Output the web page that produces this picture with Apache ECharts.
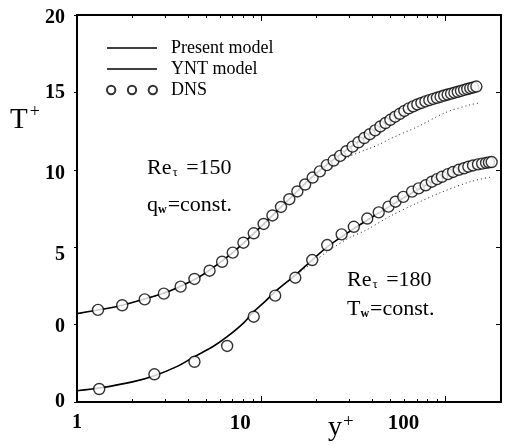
<!DOCTYPE html>
<html><head><meta charset="utf-8">
<script src="https://cdn.jsdelivr.net/npm/echarts@6/dist/echarts.min.js"></script>
<style>html,body{margin:0;padding:0;background:#fff}#c{width:507px;height:448px}</style>
</head><body><div id="c"></div>
<script>
// ---- Re_tau = 150, q_w = const (left axis, T+ from 0) ----
const qwDnsX = [1.3, 1.76, 2.33, 2.96, 3.65, 4.34, 5.24, 6.13, 7.0, 8.0, 9.1, 10.3, 11.5, 12.8, 14.2, 15.7, 17.3, 19.0, 20.8, 22.7, 24.7, 26.8, 29.0, 31.3, 33.7, 36.2, 38.8, 41.5, 44.3, 47.2, 50.2, 53.3, 56.5, 59.8, 63.2, 66.7, 70.3, 74.0, 77.8, 81.7, 85.7, 89.8, 94.0, 98.3, 102.7, 107.2, 111.8, 116.5, 121.3, 126.2, 131.2, 136.3, 141.5, 147.0];
const qwDnsT = [0.95, 1.25, 1.63, 2.0, 2.45, 2.95, 3.48, 4.06, 4.65, 5.29, 5.9, 6.5, 7.05, 7.6, 8.1, 8.6, 9.05, 9.5, 9.9, 10.3, 10.6, 10.9, 11.2, 11.5, 11.78, 12.05, 12.3, 12.55, 12.8, 13.02, 13.23, 13.43, 13.62, 13.8, 13.97, 14.1, 14.22, 14.32, 14.42, 14.5, 14.58, 14.65, 14.72, 14.8, 14.86, 14.92, 14.98, 15.04, 15.1, 15.16, 15.22, 15.27, 15.32, 15.38];
const qwPresentX = [1, 1.5, 2, 3, 4, 5, 7, 10, 14, 20, 30, 50, 70, 100, 130, 150];
const qwPresentT = [0.71, 1.07, 1.43, 2.05, 2.7, 3.35, 4.65, 6.35, 8.05, 9.8, 11.4, 13.2, 14.2, 14.82, 15.22, 15.38];
const qwYntX = [1, 1.5, 2, 3, 4, 5, 7, 10, 14, 20, 30, 43, 50, 71, 100, 136, 150];
const qwYntT = [0.71, 1.07, 1.43, 2.05, 2.7, 3.35, 4.65, 6.35, 8.0, 9.6, 10.85, 11.6, 12.0, 12.8, 13.7, 14.2, 14.3];

// ---- Re_tau = 180, T_w = const (right axis, its 0 at the bottom) ----
const twDnsX = [1.32, 2.63, 4.34, 6.53, 9.1, 11.9, 15.3, 18.9, 22.8, 27.3, 31.8, 37.6, 43.4, 49, 53.5, 59, 65.8, 71.5, 78, 84.3, 90, 95.6, 103, 110, 118, 126, 133, 141, 150, 158, 166, 172, 178];
const twDnsT = [0.84, 1.79, 2.6, 3.62, 5.51, 6.87, 8.03, 9.17, 10.14, 10.83, 11.32, 11.85, 12.25, 12.62, 12.94, 13.25, 13.59, 13.8, 14.0, 14.23, 14.4, 14.55, 14.72, 14.86, 15.0, 15.1, 15.2, 15.28, 15.35, 15.4, 15.45, 15.48, 15.5];
const twPresentX = [1, 1.32, 2, 2.63, 3.5, 4.34, 5.5, 6.53, 8, 9.1, 10.5, 11.9, 15.3, 19, 23, 30, 40, 55, 70, 95, 130, 180];
const twPresentT = [0.73, 0.9, 1.3, 1.7, 2.3, 2.93, 3.6, 4.22, 5.1, 5.83, 6.5, 7.13, 8.2, 9.2, 10.05, 11.0, 11.95, 12.95, 13.7, 14.5, 15.1, 15.45];
const twYntX = [1, 1.32, 2, 2.63, 3.5, 4.34, 5.5, 6.53, 8, 9.1, 10.5, 11.9, 15.3, 19, 23, 30, 37, 50, 70, 95, 138, 180];
const twYntT = [0.73, 0.9, 1.3, 1.7, 2.3, 2.93, 3.6, 4.22, 5.1, 5.83, 6.5, 7.13, 8.15, 9.0, 9.75, 10.6, 11.1, 12.0, 12.85, 13.55, 14.25, 14.55];

// ---- ticks / labels ----
const xMajorTicks = [1, 10, 100];
const xMinorTicks = [2, 3, 4, 5, 6, 7, 8, 9, 20, 30, 40, 50, 60, 70, 80, 90, 200];
const xTickLabels = ['1', '10', '100'];
const yTickValues = [-5, 0, 5, 10, 15, 20];
const yTickLabels = ['0', '0', '5', '10', '15', '20'];

const pairs = (xs, ys) => xs.map((x, i) => [x, ys[i]]);
const serif = 'Liberation Serif';

const xLabelRich = ['x0', 'x1', 'x2'];
const yLabelRich = ['y0', 'y1', 'y2', 'y3', 'y4', 'y5'];
const tickFont = {fontFamily: serif, fontWeight: 'bold', fontSize: 20, color: '#000'};

function xAxisBase(pos, ticks, len, showLabel) {
  return {
    type: 'log', logBase: 10, min: 1, max: 200, position: pos,
    axisLine: {show: true, onZero: false, lineStyle: {color: '#000', width: 2}},
    axisTick: {show: true, inside: true, length: len, customValues: ticks, lineStyle: {color: '#000', width: 1}},
    axisLabel: showLabel ? {
      show: true, customValues: xMajorTicks, margin: 11,
      formatter: v => { const i = xMajorTicks.indexOf(Math.round(v)); return '{' + xLabelRich[i] + '|' + xTickLabels[i] + '}'; },
      rich: {
        x0: Object.assign({}, tickFont),
        x1: Object.assign({}, tickFont, {fontSize: 21, padding: [0, 42, 0, 0]}),
        x2: Object.assign({}, tickFont, {fontSize: 21, padding: [0, 84, 0, 0]})
      }
    } : {show: false},
    splitLine: {show: false}
  };
}

const linePath = 'path://M0,0H48V1.6H0Z';

const option = {
  animation: false,
  backgroundColor: '#fff',
  grid: {left: 77, right: 6, top: 15, bottom: 46, containLabel: false},
  legend: {
    orient: 'vertical', left: 101, top: 34, itemWidth: 50, itemHeight: 10, itemGap: 3,
    textStyle: {fontFamily: serif, fontSize: 18, color: '#000', padding: [0, 0, 0, 9]},
    data: [
      {name: 'Present model', icon: linePath, itemStyle: {color: '#000', borderWidth: 0}},
      {name: 'YNT model', icon: linePath, itemStyle: {color: '#000', borderWidth: 0}},
      {name: 'DNS', icon: 'path://M0,4A4,4,0,1,1,8,4A4,4,0,1,1,0,4ZM20,4A4,4,0,1,1,28,4A4,4,0,1,1,20,4ZM40,4A4,4,0,1,1,48,4A4,4,0,1,1,40,4Z'}
    ]
  },
  xAxis: [
    xAxisBase('bottom', xMajorTicks, 6, true),
    xAxisBase('bottom', xMinorTicks, 3, false),
    xAxisBase('top', xMajorTicks.slice(1), 6, false),
    xAxisBase('top', xMinorTicks, 3, false)
  ],
  yAxis: [
    {
      type: 'value', min: -5, max: 20, interval: 5, position: 'left',
      axisLine: {show: true, onZero: false, lineStyle: {color: '#000', width: 2}},
      axisTick: {show: true, inside: false, length: 3, lineStyle: {color: '#000'}},
      axisLabel: {
        margin: 12,
        formatter: v => { const i = yTickValues.indexOf(v); return '{' + yLabelRich[i] + '|' + yTickLabels[i] + '}'; },
        rich: {
          y0: Object.assign({}, tickFont),
          y1: Object.assign({}, tickFont, {padding: [4, 0, 0, 0]}),
          y2: Object.assign({}, tickFont, {padding: [16, 0, 0, 0]}),
          y3: Object.assign({}, tickFont, {padding: [8, 0, 0, 0]}),
          y4: Object.assign({}, tickFont),
          y5: Object.assign({}, tickFont, {padding: [6, 0, 0, 0]})
        }
      },
      splitLine: {show: false}
    },
    {
      type: 'value', min: 0, max: 25, interval: 5, position: 'right',
      axisLine: {show: true, onZero: false, lineStyle: {color: '#000', width: 2}},
      axisTick: {show: true, inside: true, length: 5, lineStyle: {color: '#000'}},
      axisLabel: {show: false},
      splitLine: {show: false}
    }
  ],
  series: [
    {name: 'Present model', type: 'line', xAxisIndex: 0, yAxisIndex: 0, data: pairs(qwPresentX, qwPresentT), smooth: 0.3, showSymbol: false, symbol: 'none', lineStyle: {color: '#000', width: 1.6}, itemStyle: {color: '#000'}, z: 2},
    {name: 'Present model', type: 'line', xAxisIndex: 0, yAxisIndex: 1, data: pairs(twPresentX, twPresentT), smooth: 0.3, showSymbol: false, symbol: 'none', lineStyle: {color: '#000', width: 1.6}, itemStyle: {color: '#000'}, z: 2},
    {name: 'YNT model', type: 'line', xAxisIndex: 0, yAxisIndex: 0, data: pairs(qwYntX, qwYntT), smooth: 0.3, showSymbol: false, symbol: 'none', lineStyle: {color: '#222', width: 1, type: [1, 3]}, itemStyle: {color: '#000'}, z: 1},
    {name: 'YNT model', type: 'line', xAxisIndex: 0, yAxisIndex: 1, data: pairs(twYntX, twYntT), smooth: 0.3, showSymbol: false, symbol: 'none', lineStyle: {color: '#222', width: 1, type: [1, 3]}, itemStyle: {color: '#000'}, z: 1},
    {name: 'DNS', type: 'scatter', xAxisIndex: 0, yAxisIndex: 0, data: pairs(qwDnsX, qwDnsT), symbol: 'circle', symbolSize: 11, itemStyle: {color: '#fff', borderColor: '#000', borderWidth: 1.4}, z: 3},
    {name: 'DNS', type: 'scatter', xAxisIndex: 0, yAxisIndex: 1, data: pairs(twDnsX, twDnsT), symbol: 'circle', symbolSize: 11, itemStyle: {color: '#fff', borderColor: '#000', borderWidth: 1.4}, z: 3}
  ],
  graphic: [
    {type: 'text', left: 10, top: 103, style: {text: '{m|T}{s|+}', rich: {m: {fontFamily: serif, fontSize: 29, fill: '#000'}, s: {fontFamily: serif, fontSize: 18, fill: '#000', padding: [0, 0, 16, 2]}}}},
    {type: 'text', left: 328, top: 413, style: {text: '{m|y}{s|+}', rich: {m: {fontFamily: serif, fontSize: 28, fill: '#000'}, s: {fontFamily: serif, fontSize: 19, fill: '#000', padding: [0, 0, 10, 1]}}}},
    {type: 'text', left: 147, top: 157, style: {text: '{m|Re}{s|τ}{m| =150}', rich: {m: {fontFamily: serif, fontSize: 22, fill: '#000'}, s: {fontFamily: serif, fontSize: 13, fill: '#000', padding: [10, 3, 0, 1]}}}},
    {type: 'text', left: 147, top: 194, style: {text: '{m|q}{s|w}{m|=const.}', rich: {m: {fontFamily: serif, fontSize: 22, fill: '#000'}, s: {fontFamily: serif, fontSize: 12, fontWeight: 'bold', fill: '#000', padding: [10, 1, 0, 0]}}}},
    {type: 'text', left: 347, top: 269, style: {text: '{m|Re}{s|τ}{m| =180}', rich: {m: {fontFamily: serif, fontSize: 22, fill: '#000'}, s: {fontFamily: serif, fontSize: 13, fill: '#000', padding: [10, 3, 0, 1]}}}},
    {type: 'text', left: 347, top: 298, style: {text: '{m|T}{s|w}{m|=const.}', rich: {m: {fontFamily: serif, fontSize: 22, fill: '#000'}, s: {fontFamily: serif, fontSize: 12, fontWeight: 'bold', fill: '#000', padding: [10, 1, 0, 0]}}}}
  ]
};
echarts.init(document.getElementById('c'), null, {renderer: 'canvas'}).setOption(option);
</script></body></html>
